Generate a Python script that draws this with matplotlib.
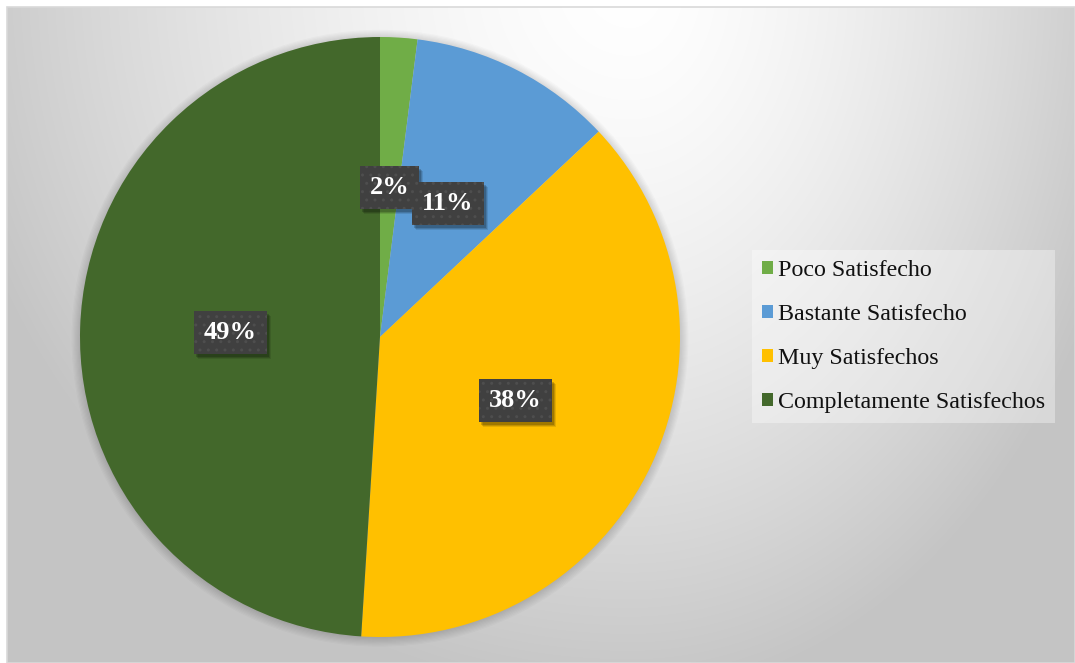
import numpy as np
import matplotlib
matplotlib.use("Agg")
import matplotlib.pyplot as plt
from matplotlib.patches import Circle, Rectangle

categories = ["Poco Satisfecho", "Bastante Satisfecho", "Muy Satisfechos",
              "Completamente Satisfechos"]
values = [2, 11, 38, 49]
colors = ["#70AD47", "#5B9BD5", "#FFC000", "#43682B"]

W, H = 1075, 663
fig = plt.figure(figsize=(W / 100, H / 100), dpi=100)
fig.patch.set_facecolor("white")

# background: soft radial grey gradient, lightest near the top
bg = fig.add_axes([7 / W, 0, 1 - 7 / W, 1 - 7 / H])
bg.set_axis_off()
px, py = np.meshgrid(np.arange(7, W), np.arange(7, H))
cx, cy = 630, -20
dx = (px - cx) / np.where(px < cx, 700.0, 520.0)
dy = (py - cy) / 720.0
d = np.clip(np.sqrt(dx ** 2 + dy ** 2), 0, 1)
shade = (255 - 59 * d ** 1.5) / 255.0
bg.imshow(np.dstack([shade, shade, shade]), aspect="auto", interpolation="bilinear")
bg.add_patch(Rectangle((0, 0), 1, 1, transform=bg.transAxes, fill=False,
                       edgecolor="#d9d9d9", lw=1.2, clip_on=False))

# pie axes: centre (380, 337) px, radius 300 px
R = 300
ax = fig.add_axes([(380 - R) / W, (H - 337 - R) / H, 2 * R / W, 2 * R / H])
ax.set_axis_off()

# soft shadow around the pie
for i in range(8):
    ax.add_patch(Circle((0.0, -0.004), 1.0 + i * 0.004, facecolor="black",
                        alpha=0.018, lw=0, zorder=0, clip_on=False))

wedges, texts, autotexts = ax.pie(
    values, colors=colors, startangle=90, counterclock=False,
    autopct="%1.0f%%", pctdistance=0.5, radius=1,
    wedgeprops=dict(linewidth=0),
    textprops=dict(color="white", fontsize=19, fontweight="bold",
                   family="Liberation Serif"))
ax.set_xlim(-1, 1)
ax.set_ylim(-1, 1)
for w in wedges:
    w.set_zorder(2)

for t in autotexts:
    t.set_zorder(6)
    t.set_bbox(dict(boxstyle="square,pad=0.38", facecolor="#404040",
                    edgecolor="#4e4e4e", linewidth=0, hatch=".."))

# drop shadows of the label boxes, placed from the drawn boxes (pixel coords)
fig.canvas.draw()
for t in autotexts:
    bb = t.get_bbox_patch().get_window_extent()
    for ox, oy, a in [(2, -3, 0.18), (3, -4, 0.14), (4, -5, 0.10)]:
        shadow = Rectangle((bb.x0 + ox, bb.y0 + oy), bb.width, bb.height,
                           transform=None, facecolor="black", alpha=a,
                           linewidth=0, zorder=4, clip_on=False)
        ax.add_patch(shadow)

leg = fig.legend(wedges, categories, loc="center left",
                 bbox_to_anchor=(752 / W, (H - 421) / H, 313 / W, 169 / H),
                 bbox_transform=fig.transFigure,
                 prop=dict(family="Liberation Serif", size=17.3),
                 handlelength=0.45, handleheight=0.45, handletextpad=0.2,
                 labelspacing=0.95, borderpad=0.42, borderaxespad=0.0,
                 frameon=True, fancybox=False, facecolor="white",
                 framealpha=0.35, edgecolor="none")
for txt in leg.get_texts():
    txt.set_color("#111111")

fig.savefig("out.png", dpi=100)
